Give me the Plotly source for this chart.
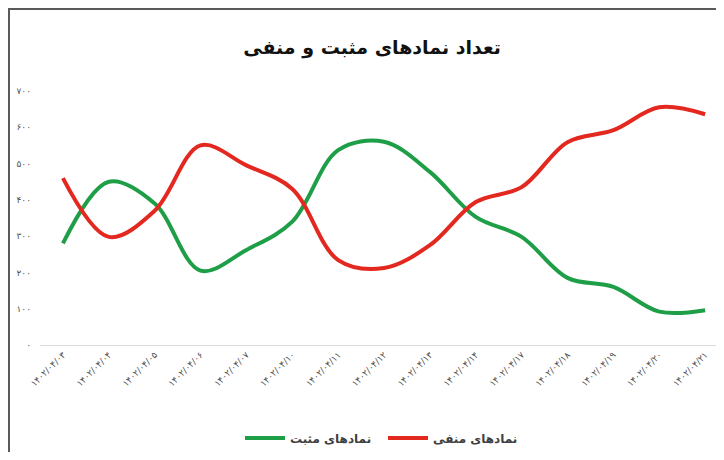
import plotly.graph_objects as go

dates = ["۱۴۰۲/۰۴/۰۳", "۱۴۰۲/۰۴/۰۴", "۱۴۰۲/۰۴/۰۵", "۱۴۰۲/۰۴/۰۶", "۱۴۰۲/۰۴/۰۷",
         "۱۴۰۲/۰۴/۱۰", "۱۴۰۲/۰۴/۱۱", "۱۴۰۲/۰۴/۱۲", "۱۴۰۲/۰۴/۱۳", "۱۴۰۲/۰۴/۱۴",
         "۱۴۰۲/۰۴/۱۷", "۱۴۰۲/۰۴/۱۸", "۱۴۰۲/۰۴/۱۹", "۱۴۰۲/۰۴/۲۰", "۱۴۰۲/۰۴/۲۱"]
positive = [280, 450, 390, 205, 262, 340, 537, 560, 477, 353, 298, 185, 160, 92, 96]
negative = [460, 298, 370, 550, 495, 430, 234, 212, 275, 394, 435, 559, 592, 655, 636]
y_ticks = [0, 100, 200, 300, 400, 500, 600, 700]
y_tick_labels = ["۰", "۱۰۰", "۲۰۰", "۳۰۰", "۴۰۰", "۵۰۰", "۶۰۰", "۷۰۰"]

title = "تعداد نمادهای مثبت و منفی"
name_pos = "نمادهای مثبت"
name_neg = "نمادهای منفی"

FONT = "DejaVu Sans"
x_idx = list(range(len(dates)))

fig = go.Figure()
fig.add_trace(go.Scatter(x=x_idx, y=positive, name="<b>" + name_pos + "</b>", mode="lines",
                         line=dict(color="#1f9e48", width=4, shape="spline", smoothing=1.0)))
fig.add_trace(go.Scatter(x=x_idx, y=negative, name="<b>" + name_neg + "</b>", mode="lines",
                         line=dict(color="#e3281f", width=4, shape="spline", smoothing=1.0)))

# page body has an 8px offset; figure coordinates are screenshot coordinates minus 8
W, H = 708, 444
ml, mr, mt, mb = 32, 0, 83, 107
pw, ph = W - ml - mr, H - mt - mb
step = 45.87
x_max = -0.5 + pw / step

def px_x(p):
    return (p - ml) / pw

def px_y(p):
    return (H - mb - p) / ph

fig.update_layout(
    width=W, height=H,
    margin=dict(l=ml, r=mr, t=mt, b=mb, autoexpand=False),
    paper_bgcolor="white", plot_bgcolor="white",
    font=dict(family=FONT, color="#404040"),
    title=dict(text="<b>" + title + "</b>", x=(372 - 8) / W, xref="container", xanchor="center",
               y=1 - 39 / H, yref="container", yanchor="middle",
               font=dict(family=FONT, size=19, color="#111111")),
    showlegend=True,
    legend=dict(orientation="h", x=(240 - 8) / W, xanchor="left", xref="container",
                y=1 - 430 / H, yref="container", yanchor="middle",
                font=dict(family=FONT, size=12, color="#404040"),
                itemwidth=40, entrywidth=88, entrywidthmode="pixels",
                traceorder="normal"),
    xaxis=dict(range=[-0.5, x_max], tickmode="array", tickvals=x_idx, ticktext=dates,
               tickangle=-45, tickfont=dict(family=FONT, size=9, color="#505050"),
               showgrid=False, zeroline=False, showline=True, linecolor="#d9d9d9",
               linewidth=1, ticks="", fixedrange=True),
    yaxis=dict(range=[0, 700], tickmode="array", tickvals=y_ticks, ticktext=y_tick_labels,
               tickfont=dict(family=FONT, size=9, color="#505050"),
               showgrid=False, zeroline=False, showline=False, ticks="",
               ticklabelstandoff=8),
    shapes=[
        dict(type="line", xref="paper", yref="paper", x0=px_x(1), x1=px_x(1),
             y0=px_y(0), y1=px_y(H), line=dict(color="#5a5a5a", width=2)),
        dict(type="line", xref="paper", yref="paper", x0=px_x(0), x1=px_x(W),
             y0=px_y(1), y1=px_y(1), line=dict(color="#5a5a5a", width=2)),
    ],
)

fig.write_html("out.html")
